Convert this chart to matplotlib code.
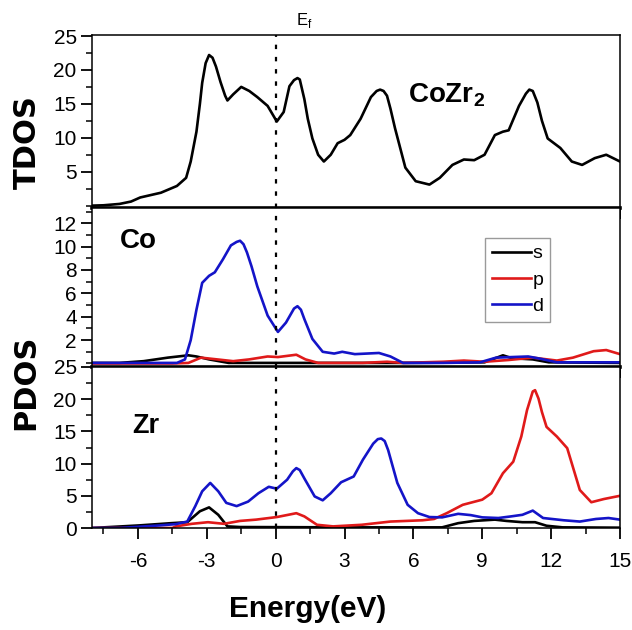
import matplotlib
matplotlib.use("Agg")
import matplotlib.pyplot as plt
from matplotlib.ticker import MultipleLocator

plt.rcParams['font.family'] = ['Liberation Sans', 'DejaVu Sans']
plt.rcParams['axes.unicode_minus'] = False
plt.rcParams['mathtext.fontset'] = 'custom'
plt.rcParams['mathtext.rm'] = 'Liberation Sans'
plt.rcParams['mathtext.bf'] = 'Liberation Sans:bold'

# TDOS de CoZr2
tdos_e = [-8, -7.5, -6.8, -6.3, -5.9, -5.0, -4.3, -3.9, -3.7, -3.45, -3.3, -3.2, -3.05,
          -2.9, -2.75, -2.6, -2.4, -2.2, -2.1, -1.85, -1.5, -1.15, -0.8, -0.35, 0.05,
          0.35, 0.6, 0.8, 0.95, 1.05, 1.25, 1.4, 1.6, 1.85, 2.1, 2.4, 2.7, 3.0, 3.25,
          3.7, 4.15, 4.4, 4.55, 4.7, 4.85, 5.0, 5.2, 5.65, 6.1, 6.7, 7.15, 7.7, 8.2,
          8.65, 9.1, 9.55, 9.9, 10.15, 10.6, 10.9, 11.05, 11.2, 11.4, 11.6, 11.85,
          12.4, 12.9, 13.35, 13.9, 14.4, 15]
tdos = [0, 0.05, 0.25, 0.6, 1.2, 1.9, 2.9, 4.1, 6.5, 10.9, 15.0, 18.1, 21.0,
        22.2, 21.8, 20.5, 18.2, 16.2, 15.5, 16.4, 17.5, 16.9, 16.0, 14.7, 12.4,
        13.8, 17.6, 18.5, 18.8, 18.6, 15.7, 12.8, 9.9, 7.5, 6.5, 7.5, 9.2, 9.7, 10.4,
        12.8, 16.0, 16.9, 17.1, 16.9, 16.2, 14.3, 11.4, 5.6, 3.6, 3.1, 4.1, 6.0, 6.8,
        6.7, 7.5, 10.4, 10.9, 11.1, 14.7, 16.5, 17.1, 16.9, 15.2, 12.5, 9.9,
        8.5, 6.5, 6.0, 7.0, 7.5, 6.5]

# PDOS Co
co_s_e = [-8, -6.8, -5.75, -4.7, -3.8, -3.45, -2.9, -2.05, 0, 3, 6, 9.1, 9.9, 10.3, 11.2, 11.9, 15]
co_s = [0.05, 0.05, 0.2, 0.5, 0.7, 0.6, 0.35, 0.05, 0.05, 0.05, 0.05, 0.1, 0.7, 0.45, 0.35, 0.1, 0.05]
co_p_e = [-8, -4.5, -3.8, -3.25, -2.55, -1.85, -1.15, -0.35, 0.1, 0.9, 1.3, 1.85, 3.8, 4.85,
          5.55, 7.3, 8.2, 9.1, 10.15, 11.2, 12.25, 12.95, 13.85, 14.4, 15]
co_p = [0, 0, 0.05, 0.5, 0.35, 0.2, 0.35, 0.6, 0.55, 0.75, 0.35, 0.05, 0.05, 0.15,
        0.05, 0.15, 0.25, 0.15, 0.3, 0.5, 0.25, 0.5, 1.05, 1.15, 0.8]
co_d_e = [-8, -4.3, -3.95, -3.7, -3.45, -3.2, -2.9, -2.65, -2.3, -1.95, -1.7, -1.55, -1.4,
          -1.25, -1.05, -0.8, -0.35, 0.1, 0.45, 0.8, 0.95, 1.1, 1.25, 1.6, 2.05, 2.55,
          2.9, 3.45, 4.5, 5.0, 5.55, 7.3, 8.9, 9.6, 10.3, 11.0, 11.55, 12.25, 15]
co_d = [0.05, 0.05, 0.35, 2.0, 4.6, 6.9, 7.5, 7.8, 8.9, 10.1, 10.4, 10.5, 10.2,
        9.5, 8.3, 6.6, 4.1, 2.7, 3.5, 4.7, 4.9, 4.6, 3.8, 2.1, 1.0, 0.85,
        1.0, 0.8, 0.9, 0.6, 0.05, 0.05, 0.1, 0.5, 0.55, 0.6, 0.4, 0.1, 0.1]

# PDOS Zr
zr_s_e = [-8, -5.95, -4.55, -3.85, -3.3, -2.9, -2.5, -2.1, -1.55, 3, 7.25, 7.95, 8.65,
          9.55, 10.05, 10.75, 11.3, 11.8, 12.5, 15]
zr_s = [0, 0.4, 0.75, 0.9, 2.6, 3.2, 2.05, 0.25, 0.15, 0.1, 0.1, 0.75, 1.1,
        1.3, 1.1, 0.9, 0.9, 0.35, 0.1, 0.05]
zr_p_e = [-8, -4.5, -4.35, -3.65, -2.95, -2.25, -1.55, -0.85, 0.05, 0.55, 0.9, 1.25, 1.8,
          2.5, 3.75, 5.0, 6.4, 6.9, 7.45, 8.15, 9.0, 9.4, 9.9, 10.35, 10.7, 10.95,
          11.2, 11.3, 11.45, 11.6, 11.8, 12.25, 12.7, 13.25, 13.75, 14.3, 15]
zr_p = [0, 0, 0.25, 0.65, 0.9, 0.65, 1.1, 1.3, 1.7, 2.05, 2.3, 1.8, 0.5,
        0.25, 0.5, 1.0, 1.2, 1.4, 2.3, 3.6, 4.4, 5.4, 8.5, 10.3, 14.2, 18.3,
        21.2, 21.4, 20.1, 18.0, 15.7, 14.2, 12.4, 5.9, 4.0, 4.5, 5.0]
zr_d_e = [-8, -6.8, -5.05, -4.35, -3.85, -3.5, -3.2, -2.85, -2.5, -2.15, -1.7, -1.2, -0.75,
          -0.3, 0.05, 0.5, 0.75, 0.9, 1.05, 1.25, 1.7, 2.05, 2.4, 2.85, 3.4, 3.8, 4.25,
          4.45, 4.6, 4.75, 4.9, 5.3, 5.75, 6.2, 6.7, 7.25, 7.95, 8.5, 9.0, 9.7, 10.25,
          10.75, 11.2, 11.65, 12.55, 13.25, 13.95, 14.5, 15]
zr_d = [0, 0, 0.4, 0.6, 1.0, 3.4, 5.7, 7.0, 5.7, 3.9, 3.4, 4.1, 5.4,
        6.4, 6.1, 7.5, 8.8, 9.3, 9.0, 7.7, 4.9, 4.3, 5.4, 7.1, 8.0, 10.6, 13.1,
        13.8, 13.9, 13.5, 12.1, 7.0, 3.6, 2.3, 1.7, 1.65, 2.2, 2.0, 1.65, 1.55, 1.8,
        2.05, 2.7, 1.55, 1.2, 1.0, 1.4, 1.55, 1.3]

negro, rojo, azul = '#000000', '#e01a1a', '#1414c8'
lw = 1.9

W, H = 632, 630
fig = plt.figure(figsize=(W / 100, H / 100), dpi=100)

def caja(top, bottom):
    return [92 / W, 1 - bottom / H, 528 / W, (bottom - top) / H]

ax1 = fig.add_axes(caja(35, 208))
ax2 = fig.add_axes(caja(208, 367))
ax3 = fig.add_axes(caja(367, 528))

estilo = dict(lw=lw, solid_joinstyle='round')
ax1.plot(tdos_e, tdos, color=negro, **estilo)

ax2.plot(co_s_e, co_s, color=negro, label='s', **estilo)
ax2.plot(co_p_e, co_p, color=rojo, label='p', **estilo)
ax2.plot(co_d_e, co_d, color=azul, label='d', **estilo)

ax3.plot(zr_s_e, zr_s, color=negro, **estilo)
ax3.plot(zr_p_e, zr_p, color=rojo, **estilo)
ax3.plot(zr_d_e, zr_d, color=azul, **estilo)

ax1.set_ylim(-0.35, 25.15)
ax1.set_yticks([5, 10, 15, 20, 25])
ax1.yaxis.set_minor_locator(MultipleLocator(2.5))
ax2.set_ylim(-0.3, 13.3)
ax2.set_yticks([2, 4, 6, 8, 10, 12])
ax2.yaxis.set_minor_locator(MultipleLocator(1))
ax3.set_ylim(0, 25)
ax3.set_yticks([0, 5, 10, 15, 20, 25])
ax3.yaxis.set_minor_locator(MultipleLocator(2.5))

for ax in (ax1, ax2, ax3):
    ax.set_xlim(-8, 15)
    ax.set_xticks([-6, -3, 0, 3, 6, 9, 12, 15])
    ax.xaxis.set_minor_locator(MultipleLocator(1.5))
    ax.axvline(0, color='black', lw=1.6, ls=(0, (2, 3.5)))
    ax.tick_params(which='major', direction='out', length=8, width=1.3,
                   labelsize=15, pad=3)
    ax.tick_params(which='minor', direction='out', length=4.5, width=1.1)
    ax.tick_params(axis='x', which='major', pad=9)
    for s in ax.spines.values():
        s.set_linewidth(1.1)

for ax in (ax1, ax2):
    ax.tick_params(axis='x', labelbottom=False)
    ax.spines['bottom'].set_linewidth(2.6)

ax2.legend(loc='upper left', bbox_to_anchor=(0.744, 0.811), borderaxespad=0,
           fontsize=14, handlelength=2.0, handletextpad=0.1, labelspacing=0.45,
           borderpad=0.35, fancybox=False, frameon=True, edgecolor='#9a9a9a',
           framealpha=1)
ax2.get_legend().get_frame().set_linewidth(1.0)

ax1.text(5.76, 15.3, r'CoZr$_\mathbf{2}$', fontsize=20, fontweight='bold',
         ha='left', va='baseline')
ax2.text(-6.77, 9.85, 'Co', fontsize=20, fontweight='bold', ha='left', va='baseline')
ax3.text(-6.24, 14.7, 'Zr', fontsize=19.5, fontweight='bold', ha='left', va='baseline')

fig.text(296 / W, 1 - 25 / H, r'E$_\mathrm{f}$', fontsize=12, ha='left', va='baseline')
fig.text(27 / W, 1 - 142 / H, 'TDOS', rotation=90, fontsize=22, fontweight='bold',
         family=['DejaVu Sans'], ha='center', va='center')
fig.text(26 / W, 1 - 382 / H, 'PDOS', rotation=90, fontsize=22, fontweight='bold',
         family=['DejaVu Sans'], ha='center', va='center')
fig.text(308 / W, 1 - 617 / H, 'Energy(eV)', fontsize=21.5, fontweight='bold',
         ha='center', va='baseline')

fig.savefig('out.png', dpi=100)
